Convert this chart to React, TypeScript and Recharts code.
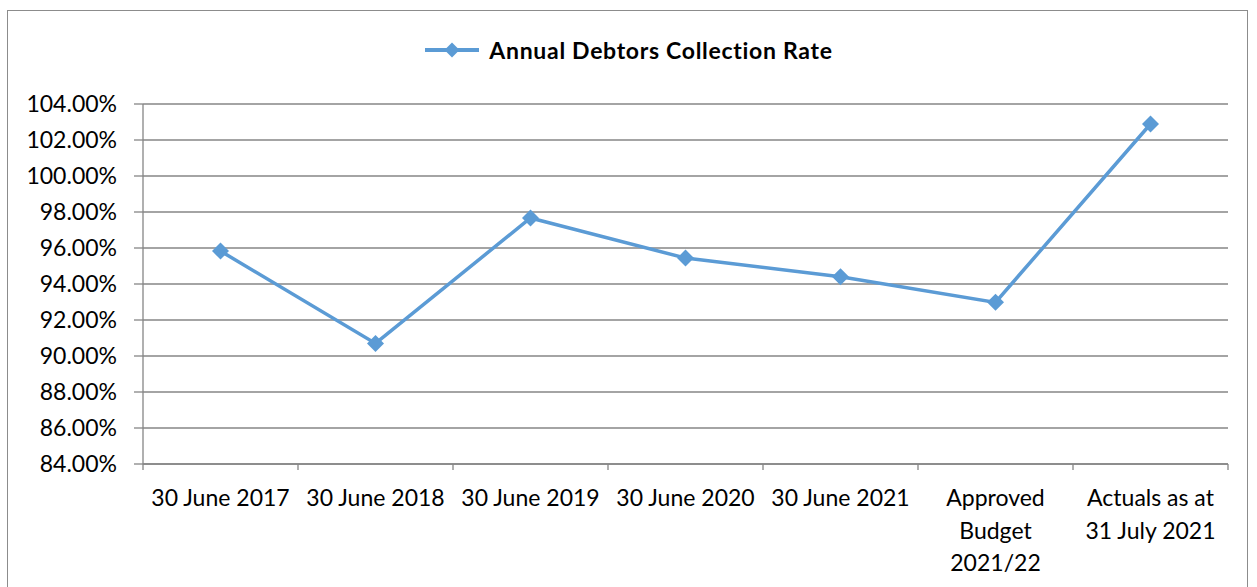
import React from 'react';
import { LineChart, Line, XAxis, YAxis, CartesianGrid, Legend } from 'recharts';

const categories = [
  '30 June 2017',
  '30 June 2018',
  '30 June 2019',
  '30 June 2020',
  '30 June 2021',
  'Approved Budget 2021/22',
  'Actuals as at 31 July 2021',
];
const categoryLines: string[][] = [
  ['30 June 2017'],
  ['30 June 2018'],
  ['30 June 2019'],
  ['30 June 2020'],
  ['30 June 2021'],
  ['Approved', 'Budget', '2021/22'],
  ['Actuals as at', '31 July 2021'],
];
const collectionRate = [0.9583, 0.907, 0.9767, 0.9544, 0.944, 0.9298, 1.0289];
const yTicks = [0.84, 0.86, 0.88, 0.9, 0.92, 0.94, 0.96, 0.98, 1.0, 1.02, 1.04];
const seriesName = 'Annual Debtors Collection Rate';

const data = categories.map((c, i) => ({ category: c, rate: collectionRate[i] }));

const W = 1257;
const H = 587;
const PLOT_LEFT = 143;
const PLOT_RIGHT = 1228;
const FONT = 'Lato, "Open Sans", sans-serif';
const BLUE = '#5B9BD5';
const GRID = '#868686';
const HALF_BAND = (PLOT_RIGHT - PLOT_LEFT) / categories.length / 2;

const Diamond = (props: any) => {
  const { cx, cy } = props;
  if (cx == null || cy == null) return null;
  const r = 8.5;
  return (
    <path
      d={`M${cx},${cy - r}L${cx + r},${cy}L${cx},${cy + r}L${cx - r},${cy}Z`}
      fill={BLUE}
      stroke="none"
    />
  );
};

const XTick = (props: any) => {
  const { x, y, payload, index } = props;
  const idx = payload.index ?? index;
  const lines = categoryLines[idx] || [payload.value];
  const axisY = y;
  return (
    <g>
      <line x1={x - HALF_BAND} x2={x - HALF_BAND} y1={axisY} y2={axisY + 6} stroke={GRID} strokeWidth={1.3} />
      {idx === categories.length - 1 && (
        <line x1={x + HALF_BAND} x2={x + HALF_BAND} y1={axisY} y2={axisY + 6} stroke={GRID} strokeWidth={1.3} />
      )}
      <text x={x} y={axisY} textAnchor="middle" fontFamily={FONT} fontSize={23} fill="#000">
        {lines.map((l: string, i: number) => (
          <tspan key={i} x={x} y={axisY + 42 + i * 32.5}>
            {l}
          </tspan>
        ))}
      </text>
    </g>
  );
};

const LegendContent = (props: any) => {
  const { payload } = props;
  return (
    <div style={{ display: 'flex', justifyContent: 'center', alignItems: 'center' }}>
      {(payload || []).map((p: any, i: number) => (
        <div key={i} style={{ display: 'flex', alignItems: 'center' }}>
          <svg width={56} height={18} style={{ marginRight: 9 }}>
            <line x1={1} x2={55} y1={9} y2={9} stroke={BLUE} strokeWidth={4} />
            <path d="M28,1.5L35.5,9L28,16.5L20.5,9Z" fill={BLUE} />
          </svg>
          <span style={{ fontFamily: FONT, fontWeight: 700, fontSize: 23, letterSpacing: 0.7, color: '#000' }}>
            {p.value}
          </span>
        </div>
      ))}
    </div>
  );
};

export default function App() {
  return (
    <div style={{ position: 'absolute', left: 0, top: 0, width: W, height: H, background: '#fff', overflow: 'hidden' }}>
      <div
        style={{
          position: 'absolute',
          left: 7,
          top: 10,
          width: 1241,
          height: 600,
          border: '1.5px solid #8c8c8c',
          boxSizing: 'border-box',
        }}
      />
      <div style={{ position: 'absolute', left: 0, top: 0 }}>
        <LineChart
          width={W}
          height={H}
          data={data}
          margin={{ top: 104, right: W - PLOT_RIGHT, bottom: 0, left: 0 }}
        >
          <CartesianGrid horizontal vertical={false} stroke={GRID} strokeWidth={1.3} />
          <XAxis
            dataKey="category"
            scale="band"
            interval={0}
            height={123}
            axisLine={{ stroke: GRID, strokeWidth: 1.3 }}
            tickLine={false}
            tick={<XTick />}
            tickMargin={0}
            tickSize={0}
          />
          <YAxis
            width={PLOT_LEFT}
            domain={[0.84, 1.04]}
            ticks={yTicks}
            interval={0}
            allowDataOverflow
            axisLine={{ stroke: GRID, strokeWidth: 1.3 }}
            tickLine={{ stroke: GRID, strokeWidth: 1.3 }}
            tickSize={9}
            tickMargin={17}
            tickFormatter={(v: number) => (v * 100).toFixed(2) + '%'}
            tick={{ fontFamily: FONT, fontSize: 23, fill: '#000' }}
          />
          <Legend
            layout="horizontal"
            verticalAlign="middle"
            align="center"
            content={<LegendContent />}
            wrapperStyle={{ top: 36, left: 0, width: W }}
          />
          <Line
            name={seriesName}
            dataKey="rate"
            stroke={BLUE}
            strokeWidth={3.5}
            dot={<Diamond />}
            activeDot={false}
            isAnimationActive={false}
          />
        </LineChart>
      </div>
    </div>
  );
}
